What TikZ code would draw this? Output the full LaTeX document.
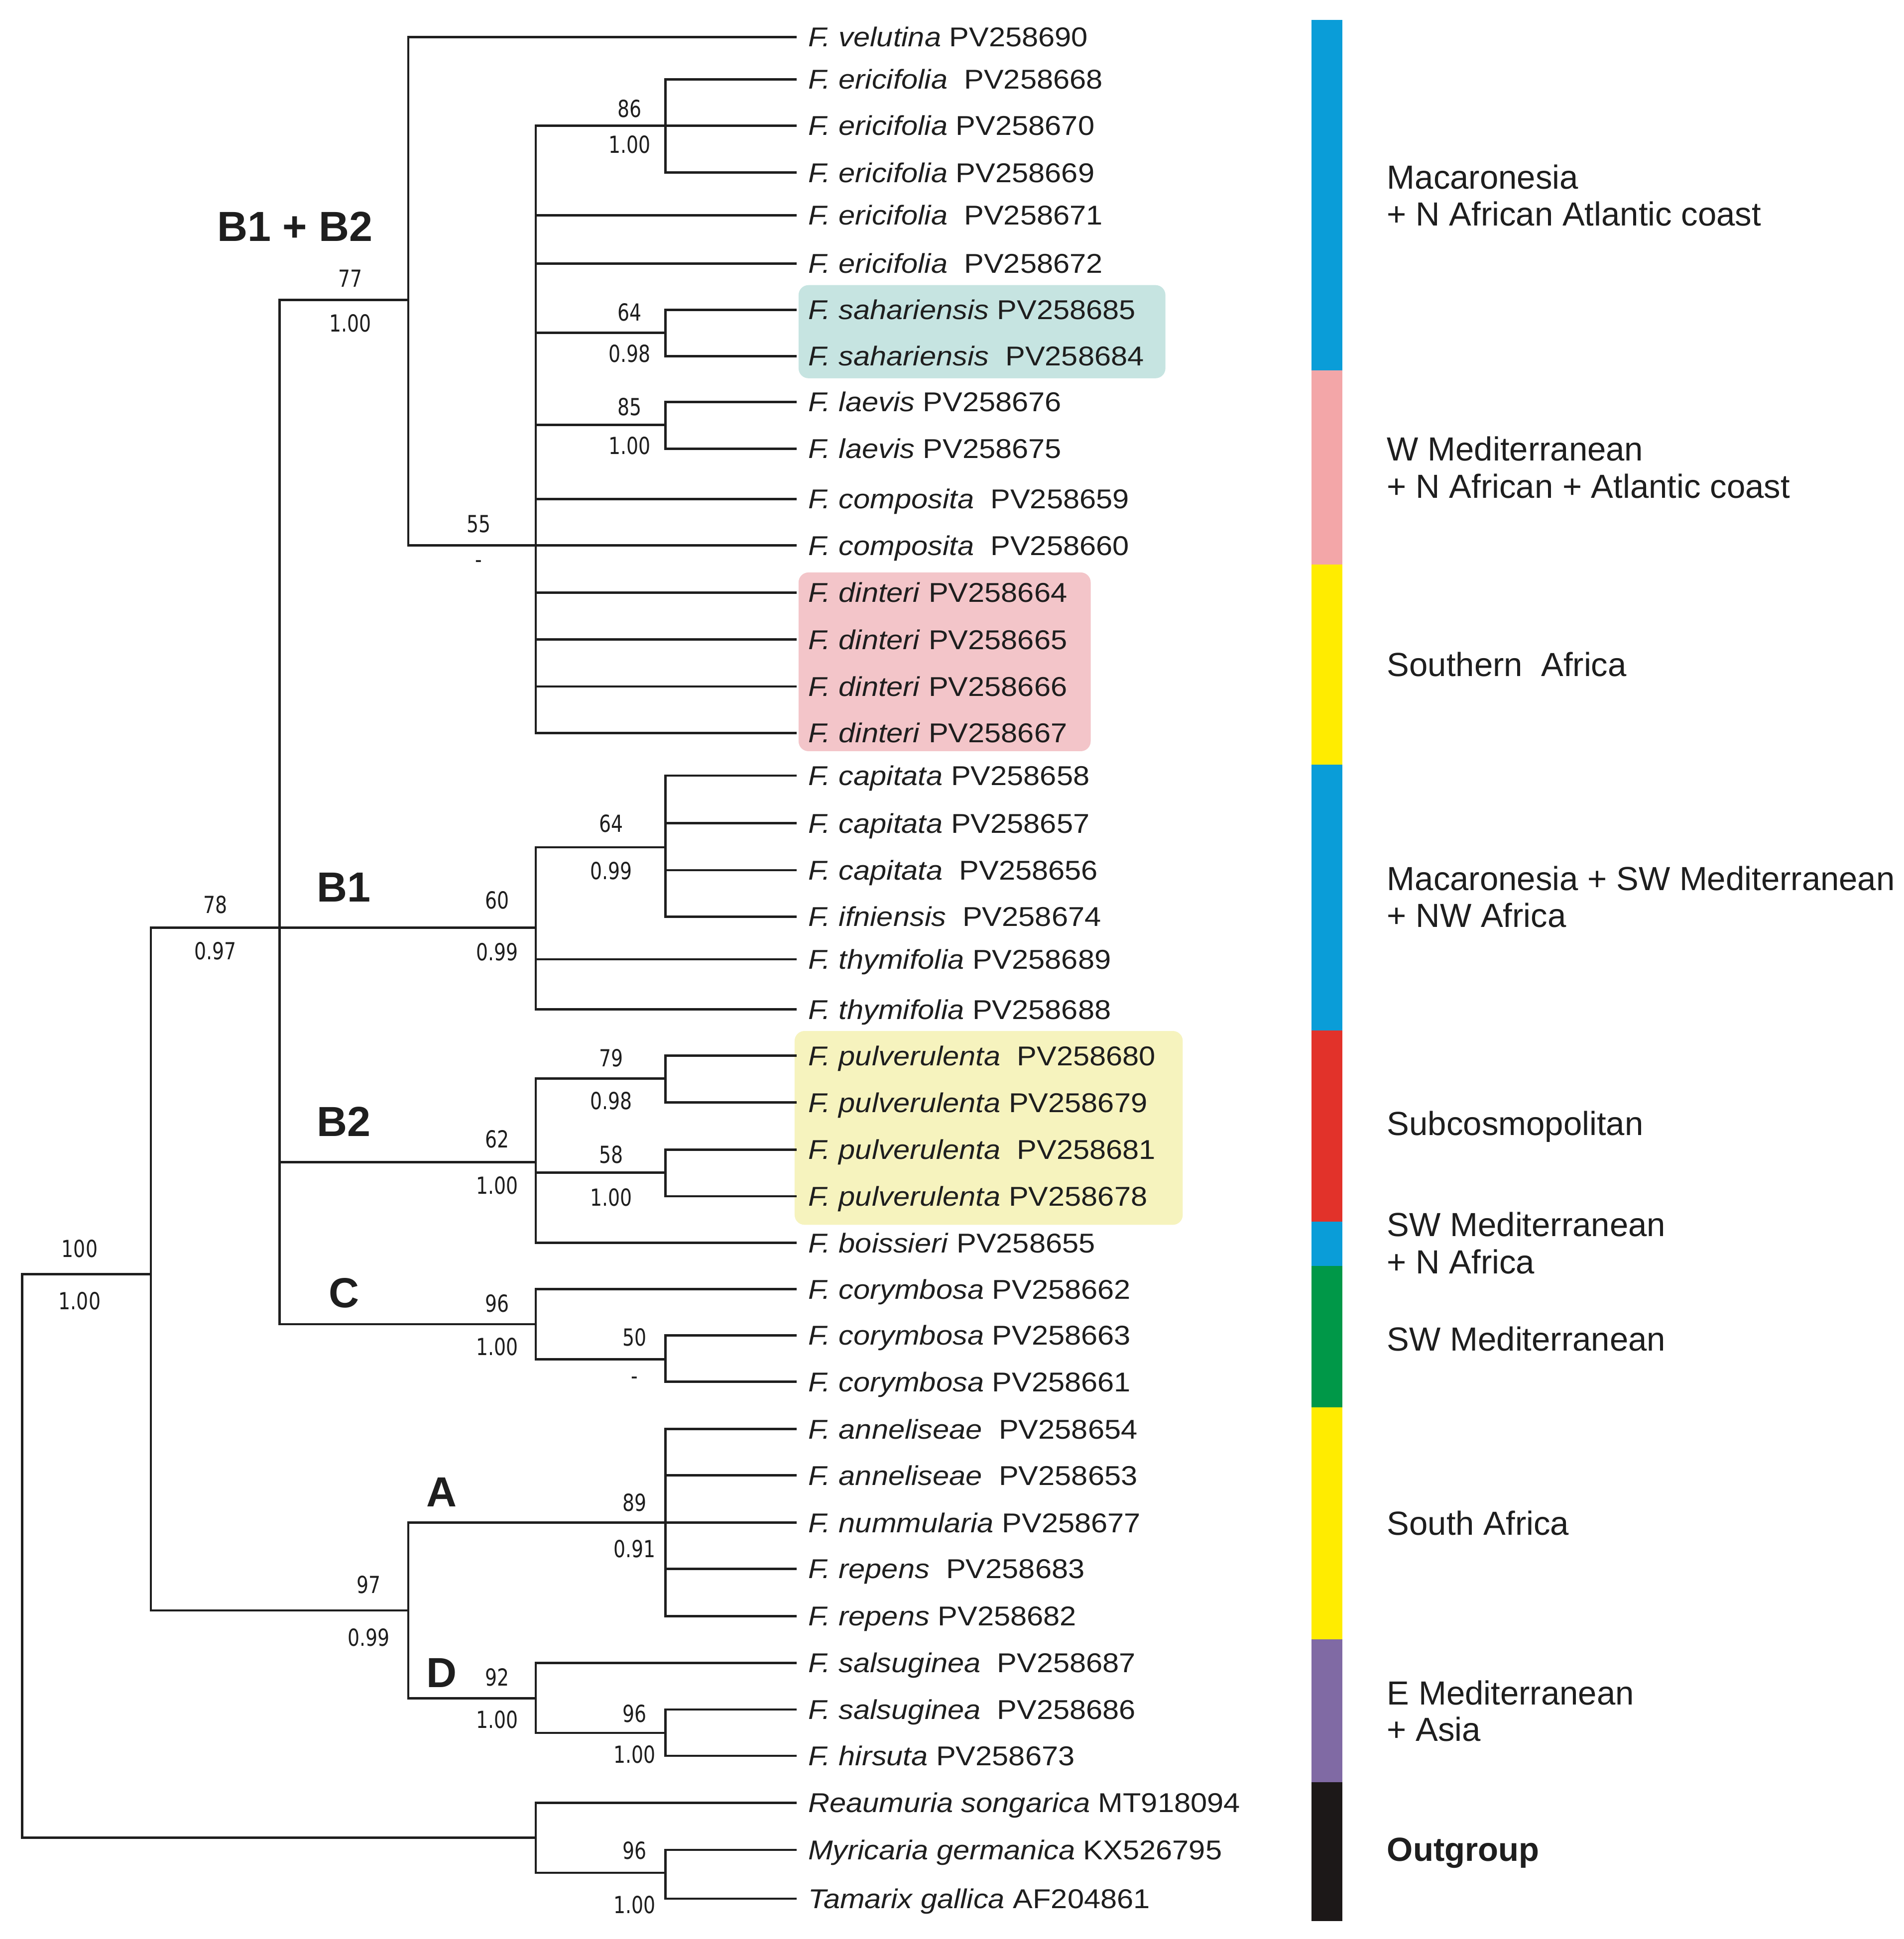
\documentclass[tikz,border=0pt]{standalone}
\usepackage{fontspec}
\setmainfont{Liberation Sans}
\newfontfamily\leaffont{Liberation Sans}[FakeStretch=1.09]
\newfontfamily\numfont{DejaVu Sans}[FakeStretch=0.8]
\definecolor{ink}{RGB}{30,30,30}
\definecolor{barblue}{RGB}{10,157,216}
\definecolor{barpink}{RGB}{243,166,168}
\definecolor{baryellow}{RGB}{255,236,0}
\definecolor{barred}{RGB}{226,50,42}
\definecolor{bargreen}{RGB}{0,152,72}
\definecolor{barpurple}{RGB}{128,106,164}
\definecolor{barblack}{RGB}{28,24,24}
\definecolor{boxteal}{RGB}{198,228,225}
\definecolor{boxpink}{RGB}{243,197,201}
\definecolor{boxyellow}{RGB}{246,243,190}
\begin{document}
\begin{tikzpicture}[x=1pt,y=-1pt,
  br/.style={line width=1.9pt, draw=ink, line cap=rect, line join=miter},
  leaf/.style={anchor=west, inner xsep=10pt, inner ysep=0pt, text height=15.7pt, text depth=0pt, font=\leaffont\fontsize{22}{26}\selectfont, text=ink},
  bs/.style={inner sep=0pt, text height=13.8pt, text depth=0pt, font=\numfont\fontsize{19}{22}\selectfont, text=ink},
  clade/.style={inner sep=0pt, text height=24.3pt, text depth=0pt, font=\bfseries\fontsize{34}{40}\selectfont, text=ink},
  region/.style={anchor=west, inner sep=0pt, text height=19.3pt, text depth=0pt, font=\fontsize{27}{32}\selectfont, text=ink},
  hl/.style={rounded corners=8pt, draw=none}]
\fill[white] (0,0) rectangle (1539,1567.6);
\useasboundingbox (0,0) rectangle (1539,1567.6);

% highlight boxes
\fill[hl, fill=boxteal] (645.5,230.5) rectangle (942,305.8);
\fill[hl, fill=boxpink] (645.5,462.8) rectangle (881.6,607.3);
\fill[hl, fill=boxyellow] (642.3,833.5) rectangle (956,990.2);

% colour bar
\fill[barblue]   (1060,16)    rectangle (1085,299.5);
\fill[barpink]   (1060,299.5) rectangle (1085,456.5);
\fill[baryellow] (1060,456.5) rectangle (1085,618);
\fill[barblue]   (1060,618)   rectangle (1085,833);
\fill[barred]    (1060,833)   rectangle (1085,987.8);
\fill[barblue]   (1060,987.8) rectangle (1085,1023.5);
\fill[bargreen]  (1060,1023.5) rectangle (1085,1137.8);
\fill[baryellow] (1060,1137.8) rectangle (1085,1325.5);
\fill[barpurple] (1060,1325.5) rectangle (1085,1441);
\fill[barblack]  (1060,1441)  rectangle (1085,1553);

% internal nodes
\coordinate (R)   at (18,1258);
\coordinate (N1)  at (122,1030);
\coordinate (N2)  at (226,750);
\coordinate (N3)  at (330,242.5);
\coordinate (N4)  at (433,441);
\coordinate (N4a) at (538,101.6);
\coordinate (N4b) at (538,269);
\coordinate (N4c) at (538,343.5);
\coordinate (N5)  at (433,750);
\coordinate (N5a) at (538,685);
\coordinate (N6)  at (433,939.4);
\coordinate (N6a) at (538,872);
\coordinate (N6b) at (538,948);
\coordinate (N7)  at (433,1070.5);
\coordinate (N7a) at (538,1099);
\coordinate (N8)  at (330,1302);
\coordinate (N8a) at (538,1231);
\coordinate (N8b) at (433,1373);
\coordinate (N8c) at (538,1401);
\coordinate (OG)  at (433,1485.6);
\coordinate (OGa) at (538,1514);

% leaves
\node[leaf] (l1)  at (643,29.9)  {\textit{F. velutina} PV258690};
\node[leaf] (l2)  at (643,64.1)  {\textit{F. ericifolia}~ PV258668};
\node[leaf] (l3)  at (643,101.6) {\textit{F. ericifolia} PV258670};
\node[leaf] (l4)  at (643,139.5) {\textit{F. ericifolia} PV258669};
\node[leaf] (l5)  at (643,174)   {\textit{F. ericifolia}~ PV258671};
\node[leaf] (l6)  at (643,213.1) {\textit{F. ericifolia}~ PV258672};
\node[leaf] (l7)  at (643,250.4) {\textit{F. sahariensis} PV258685};
\node[leaf] (l8)  at (643,287.9) {\textit{F. sahariensis}~ PV258684};
\node[leaf] (l9)  at (643,324.9) {\textit{F. laevis} PV258676};
\node[leaf] (l10) at (643,362.8) {\textit{F. laevis} PV258675};
\node[leaf] (l11) at (643,403.4) {\textit{F. composita}~ PV258659};
\node[leaf] (l12) at (643,441)   {\textit{F. composita}~ PV258660};
\node[leaf] (l13) at (643,479)   {\textit{F. dinteri} PV258664};
\node[leaf] (l14) at (643,517)   {\textit{F. dinteri} PV258665};
\node[leaf] (l15) at (643,555)   {\textit{F. dinteri} PV258666};
\node[leaf] (l16) at (643,592.5) {\textit{F. dinteri} PV258667};
\node[leaf] (l17) at (643,627)   {\textit{F. capitata} PV258658};
\node[leaf] (l18) at (643,665.5) {\textit{F. capitata} PV258657};
\node[leaf] (l19) at (643,703.5) {\textit{F. capitata}~ PV258656};
\node[leaf] (l20) at (643,741)   {\textit{F. ifniensis}~ PV258674};
\node[leaf] (l21) at (643,775.5) {\textit{F. thymifolia} PV258689};
\node[leaf] (l22) at (643,816)   {\textit{F. thymifolia} PV258688};
\node[leaf] (l23) at (643,853.5) {\textit{F. pulverulenta}~ PV258680};
\node[leaf] (l24) at (643,891.3) {\textit{F. pulverulenta} PV258679};
\node[leaf] (l25) at (643,929.4) {\textit{F. pulverulenta}~ PV258681};
\node[leaf] (l26) at (643,967.1) {\textit{F. pulverulenta} PV258678};
\node[leaf] (l27) at (643,1004.8) {\textit{F. boissieri} PV258655};
\node[leaf] (l28) at (643,1042.2) {\textit{F. corymbosa} PV258662};
\node[leaf] (l29) at (643,1079.5) {\textit{F. corymbosa} PV258663};
\node[leaf] (l30) at (643,1117.1) {\textit{F. corymbosa} PV258661};
\node[leaf] (l31) at (643,1155.3) {\textit{F. anneliseae}~ PV258654};
\node[leaf] (l32) at (643,1192.8) {\textit{F. anneliseae}~ PV258653};
\node[leaf] (l33) at (643,1231)   {\textit{F. nummularia} PV258677};
\node[leaf] (l34) at (643,1268.3) {\textit{F. repens}~ PV258683};
\node[leaf] (l35) at (643,1306.5) {\textit{F. repens} PV258682};
\node[leaf] (l36) at (643,1344.4) {\textit{F. salsuginea}~ PV258687};
\node[leaf] (l37) at (643,1382)   {\textit{F. salsuginea}~ PV258686};
\node[leaf] (l38) at (643,1419.5) {\textit{F. hirsuta} PV258673};
\node[leaf] (l39) at (643,1457.4) {\textit{Reaumuria songarica} MT918094};
\node[leaf] (l40) at (643,1495.5) {\textit{Myricaria germanica} KX526795};
\node[leaf] (l41) at (643,1535)   {\textit{Tamarix gallica} AF204861};

% branches
\draw[br] (R) |- (N1);  \draw[br] (R) |- (OG);
\draw[br] (N1) |- (N2); \draw[br] (N1) |- (N8);
\draw[br] (N2) |- (N3); \draw[br] (N2) |- (N5);
\draw[br] (N2) |- (N6); \draw[br] (N2) |- (N7);
\draw[br] (N3) |- (l1.west); \draw[br] (N3) |- (N4);
\draw[br] (N4) |- (N4a); \draw[br] (N4) |- (l5.west); \draw[br] (N4) |- (l6.west);
\draw[br] (N4) |- (N4b); \draw[br] (N4) |- (N4c);
\draw[br] (N4) |- (l11.west); \draw[br] (N4) |- (l12.west);
\draw[br] (N4) |- (l13.west); \draw[br] (N4) |- (l14.west);
\draw[br] (N4) |- (l15.west); \draw[br] (N4) |- (l16.west);
\draw[br] (N4a) |- (l2.west); \draw[br] (N4a) |- (l3.west); \draw[br] (N4a) |- (l4.west);
\draw[br] (N4b) |- (l7.west); \draw[br] (N4b) |- (l8.west);
\draw[br] (N4c) |- (l9.west); \draw[br] (N4c) |- (l10.west);
\draw[br] (N5) |- (N5a); \draw[br] (N5) |- (l21.west); \draw[br] (N5) |- (l22.west);
\draw[br] (N5a) |- (l17.west); \draw[br] (N5a) |- (l18.west);
\draw[br] (N5a) |- (l19.west); \draw[br] (N5a) |- (l20.west);
\draw[br] (N6) |- (N6a); \draw[br] (N6) |- (N6b); \draw[br] (N6) |- (l27.west);
\draw[br] (N6a) |- (l23.west); \draw[br] (N6a) |- (l24.west);
\draw[br] (N6b) |- (l25.west); \draw[br] (N6b) |- (l26.west);
\draw[br] (N7) |- (l28.west); \draw[br] (N7) |- (N7a);
\draw[br] (N7a) |- (l29.west); \draw[br] (N7a) |- (l30.west);
\draw[br] (N8) |- (N8a); \draw[br] (N8) |- (N8b);
\draw[br] (N8a) |- (l31.west); \draw[br] (N8a) |- (l32.west); \draw[br] (N8a) |- (l33.west);
\draw[br] (N8a) |- (l34.west); \draw[br] (N8a) |- (l35.west);
\draw[br] (N8b) |- (l36.west); \draw[br] (N8b) |- (N8c);
\draw[br] (N8c) |- (l37.west); \draw[br] (N8c) |- (l38.west);
\draw[br] (OG) |- (l39.west); \draw[br] (OG) |- (OGa);
\draw[br] (OGa) |- (l40.west); \draw[br] (OGa) |- (l41.west);

% support values
\node[bs] (b86) at (509,87.8) {86};   \node[bs] (p86) at (509,117) {1.00};
\node[bs] (b77) at (283,225) {77};    \node[bs] (p77) at (283,261.5) {1.00};
\node[bs] (b64s) at (509,252.5) {64}; \node[bs] (p64s) at (509,286) {0.98};
\node[bs] (b85) at (509,329) {85};    \node[bs] (p85) at (509,360.3) {1.00};
\node[bs] (b55) at (387,423.5) {55};  \node[bs] (p55) at (387,452) {-};
\node[bs] (b78) at (174,731.5) {78};  \node[bs] (p78) at (174,769) {0.97};
\node[bs] (b60) at (402,727.7) {60};  \node[bs] (p60) at (402,769.6) {0.99};
\node[bs] (b64c) at (494,665.7) {64}; \node[bs] (p64c) at (494,704) {0.99};
\node[bs] (b79) at (494,855.5) {79};  \node[bs] (p79) at (494,890) {0.98};
\node[bs] (b62) at (402,921) {62};    \node[bs] (p62) at (402,958.6) {1.00};
\node[bs] (b58) at (494,933.3) {58};  \node[bs] (p58) at (494,968) {1.00};
\node[bs] (b100) at (64.4,1009.5) {100}; \node[bs] (p100) at (64.4,1051.8) {1.00};
\node[bs] (b96c) at (402,1053.7) {96}; \node[bs] (p96c) at (402,1088.8) {1.00};
\node[bs] (b50) at (513,1081) {50};   \node[bs] (p50) at (513,1112) {-};
\node[bs] (b89) at (513,1214.8) {89}; \node[bs] (p89) at (513,1252.3) {0.91};
\node[bs] (b97) at (298,1281.3) {97}; \node[bs] (p97) at (298,1323.8) {0.99};
\node[bs] (b92) at (402,1356) {92};   \node[bs] (p92) at (402,1390.3) {1.00};
\node[bs] (b96d) at (513,1385.3) {96}; \node[bs] (p96d) at (513,1418.5) {1.00};
\node[bs] (b96o) at (513,1496) {96};  \node[bs] (p96o) at (513,1539.8) {1.00};

% clade labels
\node[clade] (cB12) at (238.4,182.8) {B1 + B2};
\node[clade] (cB1) at (278,717) {B1};
\node[clade] (cB2) at (278,906.3) {B2};
\node[clade] (cC) at (278,1045) {C};
\node[clade] (cA) at (357,1206) {A};
\node[clade] (cD) at (357,1352) {D};

% region labels
\node[region] (r1a) at (1121,143) {Macaronesia};
\node[region] (r1b) at (1121,173) {+ N African Atlantic coast};
\node[region] (r2a) at (1121,363) {W Mediterranean};
\node[region] (r2b) at (1121,393) {+ N African + Atlantic coast};
\node[region] (r3)  at (1121,537) {Southern~ Africa};
\node[region] (r4a) at (1121,710) {Macaronesia + SW Mediterranean};
\node[region] (r4b) at (1121,740) {+ NW Africa};
\node[region] (r5)  at (1121,908) {Subcosmopolitan};
\node[region] (r6a) at (1121,990) {SW Mediterranean};
\node[region] (r6b) at (1121,1020) {+ N Africa};
\node[region] (r7)  at (1121,1082.5) {SW Mediterranean};
\node[region] (r8)  at (1121,1231.5) {South Africa};
\node[region] (r9a) at (1121,1368.5) {E Mediterranean};
\node[region] (r9b) at (1121,1398) {+ Asia};
\node[region, font=\bfseries\fontsize{27}{32}\selectfont] (r10) at (1121,1495) {Outgroup};
\end{tikzpicture}
\end{document}
